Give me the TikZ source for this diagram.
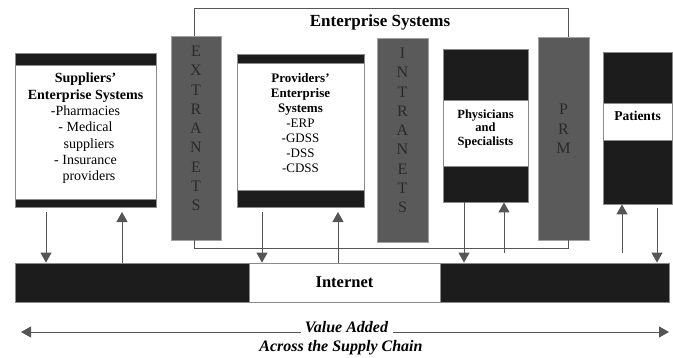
\documentclass[tikz,border=0pt]{standalone}
\usepackage{fontspec}
\setmainfont{Liberation Serif}
\usetikzlibrary{arrows.meta}
\definecolor{darkfill}{HTML}{1C1C1C}
\definecolor{barfill}{HTML}{5A5A5A}
\definecolor{bartext}{HTML}{2A2A2A}
\definecolor{edgegray}{HTML}{8A8A8A}
\definecolor{linegray}{HTML}{555555}
\tikzset{
  box/.style={rectangle, inner sep=0pt, draw=edgegray, line width=0.8pt},
  darkbox/.style={box, fill=darkfill},
  whitebox/.style={box, fill=white},
  barbox/.style={box, fill=barfill, draw=edgegray!80},
  bartxt/.style={font=\fontsize{16}{19.3}\selectfont, text=bartext, align=center, inner sep=0pt},
  lbl/.style={align=center, inner sep=0pt},
  conn/.style={draw=linegray, line width=0.9pt},
  arr/.style={conn, -{Triangle[width=11pt,length=10pt]}},
}
\begin{document}
\begin{tikzpicture}[x=1pt,y=-1pt]
\useasboundingbox (0,0) rectangle (673,357);

% Suppliers box
\node[darkbox, minimum width=141, minimum height=154] (sup) at (85.5,130) {};
\node[whitebox, minimum width=141, minimum height=134] (supw) at (85.5,132) {};
\node[lbl, font=\fontsize{14}{16.3}\selectfont] (supt) at (85.5,128.5)
  {\textbf{Suppliers'}\\\textbf{Enterprise Systems}\\-Pharmacies\\- Medical\\\ \ suppliers\\- Insurance\\\ \ providers};

% Providers box
\node[darkbox, minimum width=127, minimum height=153] (prov) at (300.5,130.5) {};
\node[whitebox, minimum width=127, minimum height=127] (provw) at (300.5,126.5) {};
\node[lbl, font=\fontsize{13}{15}\selectfont] (provt) at (300.5,123.5)
  {\textbf{Providers'}\\\textbf{Enterprise}\\\textbf{Systems}\\-ERP\\-GDSS\\-DSS\\-CDSS};

% Physicians box
\node[darkbox, minimum width=85, minimum height=153] (phys) at (485.5,125.5) {};
\node[whitebox, minimum width=85, minimum height=66] (physw) at (485.5,133) {};
\node[lbl, font=\bfseries\fontsize{12.5}{13.5}\selectfont] (physt) at (485.5,128.5)
  {Physicians\\and\\Specialists};

% Patients box
\node[darkbox, minimum width=69, minimum height=152] (pat) at (637.5,128) {};
\node[whitebox, minimum width=69, minimum height=37] (patw) at (637.5,121.5) {};
\node[lbl, font=\bfseries\fontsize{13.5}{15}\selectfont] (patt) at (637.5,116) {Patients};

% Vertical bars
\node[barbox, minimum width=50, minimum height=204] (ext) at (196,138) {};
\node[bartxt] (extt) at (196,128.5) {E\\X\\T\\R\\A\\N\\E\\T\\S};
\node[barbox, minimum width=51, minimum height=204] (intr) at (402.5,140) {};
\node[bartxt] (intrt) at (402.5,130.5) {I\\N\\T\\R\\A\\N\\E\\T\\S};
\node[barbox, minimum width=51, minimum height=203] (prm) at (563.5,138.5) {};
\node[bartxt] (prmt) at (563.5,129) {P\\R\\M};

% Enterprise Systems bracket
\coordinate (tl) at (194.5,8);
\coordinate (tr) at (568,8);
\coordinate (bl) at (194.5,248);
\coordinate (br) at (568,248);
\draw[conn] (ext.north -| tl) -- (tl) -- (tr) -- (prm.north -| tr);
\draw[conn] (ext.south -| bl) -- (bl) -- (br) -- (prm.south -| br);
\node[lbl, font=\bfseries\fontsize{17}{20}\selectfont] (ent) at (380,22) {Enterprise Systems};

% Internet bar
\node[darkbox, minimum width=654, minimum height=39] (inet) at (342,282.5) {};
\node[whitebox, minimum width=191, minimum height=39, font=\bfseries\fontsize{16.5}{19}\selectfont] (inetw) at (344.5,282.5) {Internet};

% Arrow positions
\coordinate (a1) at (46,212);
\coordinate (a2) at (122,212);
\coordinate (a3) at (262,212);
\coordinate (a4) at (338,212);
\coordinate (a5) at (464,253);
\coordinate (a6) at (504,253);
\coordinate (a7) at (622,253);
\coordinate (a8) at (657,208);

\draw[arr] (a1) -- (inet.north -| a1);
\draw[arr] (inet.north -| a2) -- (a2);
\draw[arr] (a3) -- (inet.north -| a3);
\draw[arr] (inet.north -| a4) -- (a4);
\draw[arr] (phys.south -| a5) -- (inet.north -| a5);
\draw[arr] (a6) -- (phys.south -| a6);
\draw[arr] (a7) -- (pat.south -| a7);
\draw[arr] (a8) -- (inet.north -| a8);

% Value added
\node[lbl, font=\bfseries\itshape\fontsize{16}{19}\selectfont] (va) at (346.5,327) {Value Added};
\node[lbl, font=\bfseries\itshape\fontsize{16}{19}\selectfont] (ac) at (341,348) {Across the Supply Chain};
\coordinate (vl) at (21,332);
\coordinate (vr) at (669,332);
\draw[arr] (va.west |- vl) ++(-4,0) -- (vl);
\draw[arr] (va.east |- vr) ++(5,0) -- (vr);
\end{tikzpicture}
\end{document}
